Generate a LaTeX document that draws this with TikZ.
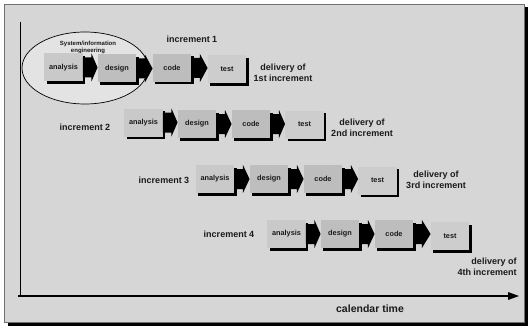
\documentclass[tikz,border=0pt]{standalone}
\usepackage{fontspec}
\setmainfont{Liberation Sans}
\usetikzlibrary{shadows,calc,shapes.geometric}
\definecolor{bg}{HTML}{D6D6D6}
\definecolor{frameC}{HTML}{707070}
\definecolor{ellC}{HTML}{E3E3E3}
\definecolor{boxA}{HTML}{C9C9C9}
\definecolor{boxD}{HTML}{BEBEBE}
\definecolor{boxC}{HTML}{BDBDBD}
\definecolor{boxT}{HTML}{CDCDCD}
\definecolor{txt}{HTML}{1A1A1A}
\begin{document}
\begin{tikzpicture}[x=1pt,y=-1pt,
  stage/.style={minimum width=38.5pt,minimum height=28pt,inner sep=0pt,
    font=\fontsize{7.3}{8}\selectfont\bfseries,text=txt,
    drop shadow={shadow xshift=2.5pt,shadow yshift=-2.5pt,fill=black,opacity=1}},
  sa/.style={stage,fill=boxA},
  sd/.style={stage,fill=boxD},
  sc/.style={stage,fill=boxC},
  st/.style={stage,fill=boxT},
  lbl/.style={font=\fontsize{9}{11}\selectfont\bfseries,text=txt,inner sep=0pt,align=center},
  blockarrow/.style={to path={let \p1=(\tikztostart), \p2=(\tikztotarget) in
    (\x1,\y1+10pt) -- (\x1+8.5pt,\y1+10pt) -- (\x1+8.5pt,\y1+14pt) -- (\x2,\y1)
    -- (\x1+8.5pt,\y1-14pt) -- (\x1+8.5pt,\y1-10pt) -- (\x1,\y1-10pt) -- cycle}}
]
\useasboundingbox (0,0) rectangle (529,326);
% frame
\fill[black] (7.5,7.5) rectangle (528,325.5);
\draw[fill=bg,draw=frameC,line width=0.8pt] (4.5,4.5) rectangle (524.5,322.5);
% axes
\coordinate (ytop) at (20.5,22);
\coordinate (orig) at (20.5,296);
\coordinate (xend) at (519,296);
\draw[line width=1.3pt] (ytop) -- (orig);
\draw[line width=1.1pt] (18,296) -- (509,296);
\fill (xend) -- (508,292) -- (508,300) -- cycle;
\node[font=\fontsize{10.5}{12}\selectfont\bfseries,text=txt] (cal) at (370,309) {calendar time};
% ellipse
\node[draw=black,line width=0.7pt,fill=ellC,ellipse,minimum width=126pt,minimum height=72pt,inner sep=0pt] (sie) at (85,68) {};
\node[font=\fontsize{6}{7}\selectfont\bfseries,text=txt,align=center,inner sep=0pt] (sietxt) at (88,47.5) {System/information\\engineering};
% row 1
\node[sa] (a1) at (63.5,67.5) {analysis};
\node[sd] (d1) at (117,68.5) {design};
\node[sc] (c1) at (172,68) {code};
\node[st] (t1) at (227,69.5) {test};
\node[lbl] (i1) at (192,39) {increment 1};
\node[lbl] (v1) at (283,73) {delivery of\\1st increment};
% row 2
\node[sa] (a2) at (143.5,122.5) {analysis};
\node[sd] (d2) at (197,124) {design};
\node[sc] (c2) at (251,124) {code};
\node[st] (t2) at (304.5,124.5) {test};
\node[lbl] (i2) at (85,127.5) {increment 2};
\node[lbl] (v2) at (362,127.5) {delivery of\\2nd increment};
% row 3
\node[sa] (a3) at (215,179) {analysis};
\node[sd] (d3) at (269,179) {design};
\node[sc] (c3) at (323,179) {code};
\node[st] (t3) at (377.5,180.5) {test};
\node[lbl] (i3) at (164,180) {increment 3};
\node[lbl] (v3) at (436,180) {delivery of\\3rd increment};
% row 4
\node[sa] (a4) at (286.5,234) {analysis};
\node[sd] (d4) at (340,234) {design};
\node[sc] (c4) at (394,234) {code};
\node[st] (t4) at (450,236) {test};
\node[lbl] (i4) at (229,234) {increment 4};
\node[lbl,align=right] (v4) at (487,267) {delivery of\\4th increment};
% arrows
\foreach \u/\w in {a1/d1,d1/c1,c1/t1,a2/d2,d2/c2,c2/t2,a3/d3,d3/c3,c3/t3,a4/d4,d4/c4,c4/t4}
  \fill[black] (\u.east) to[blockarrow] (\w.west);
\end{tikzpicture}
\end{document}
